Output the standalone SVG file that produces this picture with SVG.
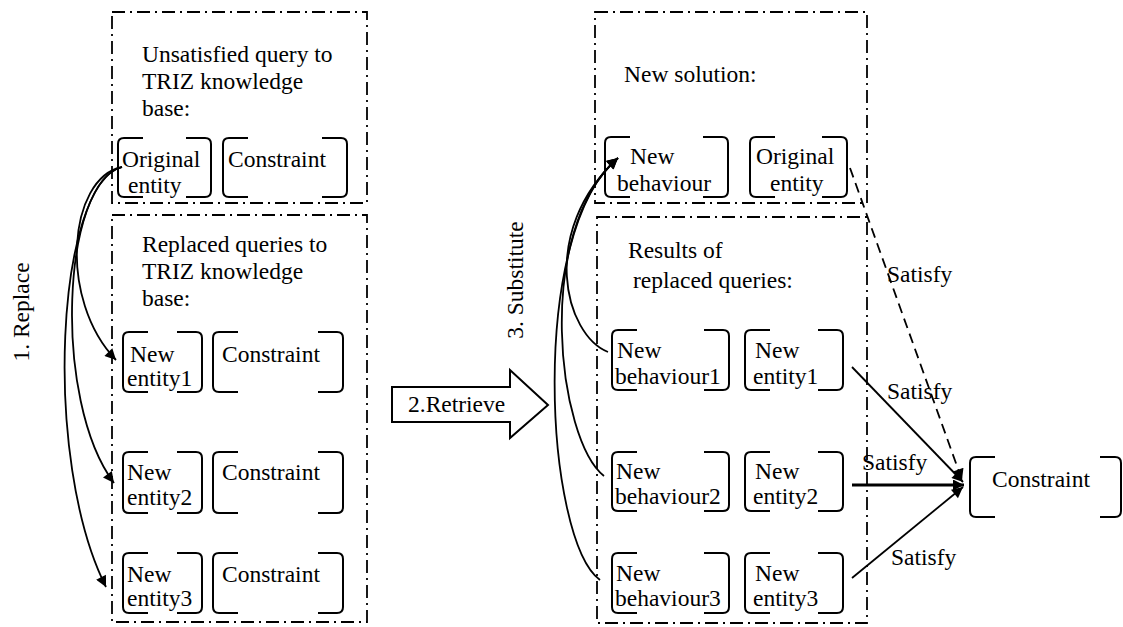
<svg xmlns="http://www.w3.org/2000/svg" width="1123" height="627" viewBox="0 0 1123 627">
<defs>
<style>
text{font-family:'Liberation Serif','DejaVu Serif','Times New Roman',serif;font-size:23.5px;fill:#000}
.frame{fill:none;stroke:#000;stroke-width:1.8;stroke-dasharray:13 5 2 5}
.br{fill:none;stroke:#000;stroke-width:2}
.con{fill:none;stroke:#000;stroke-width:1.8}
.thick{stroke-width:3}
.dash{stroke-dasharray:10 6}
</style>
<marker id="ah" viewBox="0 0 10 10" refX="10" refY="5" markerWidth="16" markerHeight="11" markerUnits="userSpaceOnUse" orient="auto"><path d="M0,0 L10,5 L0,10 z" fill="#000"/></marker>
</defs>
<rect width="1123" height="627" fill="#fff"/>

<g id="frames">
<rect class="frame" x="112" y="12" width="255" height="191"/>
<rect class="frame" x="112" y="215" width="255" height="407"/>
<rect class="frame" x="595" y="12" width="272" height="191"/>
<rect class="frame" x="597" y="217" width="270" height="406"/>
</g>

<g font-family="Liberation Serif, DejaVu Serif, serif">
<g id="left-titles">
<text x="142" y="62">Unsatisfied query to</text>
<text x="142" y="89">TRIZ knowledge</text>
<text x="142" y="116">base:</text>
<text x="142" y="252">Replaced queries to</text>
<text x="142" y="279">TRIZ knowledge</text>
<text x="142" y="306">base:</text>
</g>

<g id="right-titles">
<text x="624" y="82">New solution:</text>
<text x="628" y="258">Results of</text>
<text x="633" y="288">replaced queries:</text>
</g>

<g id="n-original-entity-l">
<path class="br" d="M143 138H124Q118 138 118 144V191Q118 197 124 197H143M186 138H205Q211 138 211 144V191Q211 197 205 197H186"/>
<text x="122" y="167">Original</text><text x="128" y="193">entity</text>
</g>
<g id="n-constraint-l0">
<path class="br" d="M248 138H229Q223 138 223 144V191Q223 197 229 197H248M322 138H341Q347 138 347 144V191Q347 197 341 197H322"/>
<text x="228" y="167">Constraint</text>
</g>

<g id="n-new-entity1-l">
<path class="br" d="M148 332H129Q123 332 123 338V386Q123 392 129 392H148M177 332H196Q202 332 202 338V386Q202 392 196 392H177"/>
<text x="130" y="362">New</text><text x="127" y="386">entity1</text>
</g>
<g id="n-constraint-l1">
<path class="br" d="M238 332H219Q213 332 213 338V386Q213 392 219 392H238M318 332H337Q343 332 343 338V386Q343 392 337 392H318"/>
<text x="222" y="362">Constraint</text>
</g>

<g id="n-new-entity2-l">
<path class="br" d="M148 452H129Q123 452 123 458V507Q123 513 129 513H148M177 452H196Q202 452 202 458V507Q202 513 196 513H177"/>
<text x="127" y="480">New</text><text x="127" y="505">entity2</text>
</g>
<g id="n-constraint-l2">
<path class="br" d="M238 452H219Q213 452 213 458V507Q213 513 219 513H238M318 452H337Q343 452 343 458V507Q343 513 337 513H318"/>
<text x="222" y="480">Constraint</text>
</g>

<g id="n-new-entity3-l">
<path class="br" d="M148 553H129Q123 553 123 559V607Q123 613 129 613H148M177 553H196Q202 553 202 559V607Q202 613 196 613H177"/>
<text x="127" y="582">New</text><text x="127" y="606">entity3</text>
</g>
<g id="n-constraint-l3">
<path class="br" d="M238 553H219Q213 553 213 559V607Q213 613 219 613H238M318 553H337Q343 553 343 559V607Q343 613 337 613H318"/>
<text x="222" y="582">Constraint</text>
</g>

<g id="n-new-behaviour">
<path class="br" d="M630 137H611Q605 137 605 143V191Q605 197 611 197H630M703 137H722Q728 137 728 143V191Q728 197 722 197H703"/>
<text x="630" y="164">New</text><text x="617" y="191">behaviour</text>
</g>
<g id="n-original-entity-r">
<path class="br" d="M775 137H756Q750 137 750 143V191Q750 197 756 197H775M822 137H841Q847 137 847 143V191Q847 197 841 197H822"/>
<text x="756" y="164">Original</text><text x="770" y="191">entity</text>
</g>

<g id="n-new-behaviour1">
<path class="br" d="M637 330H618Q612 330 612 336V384Q612 390 618 390H637M704 330H723Q729 330 729 336V384Q729 390 723 390H704"/>
<text x="617" y="358">New</text><text x="615" y="384">behaviour1</text>
</g>
<g id="n-new-entity1-r">
<path class="br" d="M770 330H751Q745 330 745 336V384Q745 390 751 390H770M818 330H837Q843 330 843 336V384Q843 390 837 390H818"/>
<text x="755" y="358">New</text><text x="753" y="384">entity1</text>
</g>

<g id="n-new-behaviour2">
<path class="br" d="M637 452H618Q612 452 612 458V505Q612 511 618 511H637M704 452H723Q729 452 729 458V505Q729 511 723 511H704"/>
<text x="616" y="479">New</text><text x="615" y="504">behaviour2</text>
</g>
<g id="n-new-entity2-r">
<path class="br" d="M770 452H751Q745 452 745 458V505Q745 511 751 511H770M818 452H837Q843 452 843 458V505Q843 511 837 511H818"/>
<text x="755" y="479">New</text><text x="753" y="504">entity2</text>
</g>

<g id="n-new-behaviour3">
<path class="br" d="M637 553H618Q612 553 612 559V607Q612 613 618 613H637M704 553H723Q729 553 729 559V607Q729 613 723 613H704"/>
<text x="616" y="581">New</text><text x="615" y="606">behaviour3</text>
</g>
<g id="n-new-entity3-r">
<path class="br" d="M770 553H751Q745 553 745 559V607Q745 613 751 613H770M818 553H837Q843 553 843 559V607Q843 613 837 613H818"/>
<text x="755" y="581">New</text><text x="753" y="606">entity3</text>
</g>

<g id="n-constraint-r">
<path class="br" d="M995 457H976Q970 457 970 463V511Q970 517 976 517H995M1100 457H1115Q1121 457 1121 463V511Q1121 517 1115 517H1100"/>
<text x="992" y="487">Constraint</text>
</g>

<g id="n-retrieve">
<polygon points="392,387 510,387 510,370 548,405 510,438 510,422 392,422" fill="#fff" stroke="#000" stroke-width="2"/>
<text x="408" y="412">2.Retrieve</text>
</g>

<g id="connectors">
<path class="con" d="M122 167C68 178 58 300 116 360" marker-end="url(#ah)"/>
<path class="con" d="M122 167C62 182 52 400 114 483" marker-end="url(#ah)"/>
<path class="con" d="M122 167C56 185 42 460 106 587" marker-end="url(#ah)"/>
<path class="con" d="M608 352C565 335 538 232 618 158" marker-end="url(#ah)"/>
<path class="con" d="M604 476C558 440 533 232 618 158" marker-end="url(#ah)"/>
<path class="con" d="M600 580C545 540 528 232 618 158" marker-end="url(#ah)"/>
<path class="con dash" d="M850 168L962 480" marker-end="url(#ah)"/>
<path class="con" d="M852 367L963 482" marker-end="url(#ah)"/>
<path class="con thick" d="M852 485L964 485" marker-end="url(#ah)"/>
<path class="con" d="M852 578L963 487" marker-end="url(#ah)"/>
</g>

<g id="labels">
<text transform="translate(29,312) rotate(-90)" text-anchor="middle">1. Replace</text>
<text transform="translate(523,280) rotate(-90)" text-anchor="middle">3. Substitute</text>
<text x="887" y="282">Satisfy</text>
<text x="887" y="399">Satisfy</text>
<text x="862" y="470">Satisfy</text>
<text x="891" y="565">Satisfy</text>
</g>
</g>
</svg>
